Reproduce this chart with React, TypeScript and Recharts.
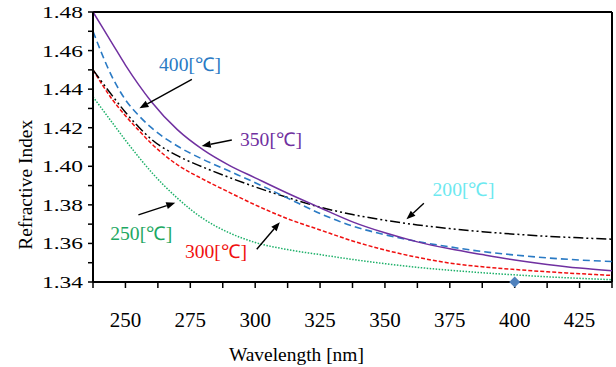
import { ComposedChart, Line, XAxis, YAxis, ReferenceLine, ReferenceDot, Scatter } from 'recharts'

// wavelength [nm]
const wavelength = [237.5, 245, 250, 255, 260, 270, 280, 290, 300, 312.5, 325, 337.5, 350, 362.5, 375, 387.5, 400, 412.5, 425, 437.5]

// refractive index per annealing temperature
const n350 = [1.48, 1.4635, 1.4525, 1.4425, 1.4335, 1.419, 1.4085, 1.4005, 1.394, 1.386, 1.3785, 1.3712, 1.3655, 1.3608, 1.3572, 1.3542, 1.3514, 1.3491, 1.3472, 1.3458]
const n400 = [1.47, 1.446, 1.4345, 1.4265, 1.42, 1.4105, 1.4035, 1.3975, 1.3915, 1.3835, 1.3755, 1.369, 1.3645, 1.361, 1.3582, 1.3558, 1.354, 1.3525, 1.3514, 1.3506]
const n200 = [1.45, 1.4365, 1.428, 1.4205, 1.414, 1.4055, 1.3995, 1.3942, 1.3893, 1.3838, 1.3788, 1.375, 1.372, 1.3696, 1.3677, 1.3661, 1.3648, 1.3637, 1.3629, 1.3622]
const n300 = [1.45, 1.4345, 1.4262, 1.4188, 1.4118, 1.4008, 1.3932, 1.3865, 1.38, 1.3728, 1.367, 1.3613, 1.3566, 1.3528, 1.3498, 1.3479, 1.3465, 1.3453, 1.3443, 1.3434]
const n250 = [1.436, 1.4225, 1.4135, 1.405, 1.397, 1.3835, 1.3728, 1.3655, 1.3605, 1.3568, 1.3542, 1.3517, 1.3495, 1.3476, 1.3461, 1.3448, 1.3437, 1.3427, 1.3419, 1.3412]

const marker = [{ w: 400, d: 1.34 }]

const xTicks = [237.5, 250, 262.5, 275, 287.5, 300, 312.5, 325, 337.5, 350, 362.5, 375, 387.5, 400, 412.5, 425, 437.5]
const yTicks = [1.34, 1.35, 1.36, 1.37, 1.38, 1.39, 1.4, 1.41, 1.42, 1.43, 1.44, 1.45, 1.46, 1.47, 1.48]

// annotations: text, text centre, arrow start, arrow end (data coords)
const noteText = ['400[℃]', '350[℃]', '200[℃]', '250[℃]', '300[℃]']
const notePos = [[274.9, 1.4528], [306.1, 1.4139], [380.3, 1.388], [256.1, 1.3651], [284.9, 1.3558]]
const arrowFrom = [[275.6, 1.4451], [291, 1.4136], [365, 1.3808], [255, 1.3748], [300.6, 1.357]]
const arrowTo = [[255.4, 1.4301], [279.4, 1.4105], [358.3, 1.3725], [269.2, 1.3811], [309.5, 1.371]]
const noteColors = ['#2A7AC4', '#7030A0', '#6DE9F0', '#1DA862', '#F01010']

const rows = wavelength.map((w, i) => ({
  w,
  n350: n350[i],
  n400: n400[i],
  n200: n200[i],
  n300: n300[i],
  n250: n250[i],
}))

const serif = { fontFamily: "'Liberation Serif', serif" }

const renderYTick = (props: any) => {
  const { x, y, payload } = props
  const v = payload.value
  if (Math.round(v * 100) % 2 !== 0) return <g />
  return (
    <text x={x} y={y} dy="0.35em" textAnchor="end" style={serif} fontSize={17} fill="#000"
      textLength={41} lengthAdjust="spacingAndGlyphs">
      {v.toFixed(2)}
    </text>
  )
}

const renderXTick = (props: any) => {
  const { x, y, payload } = props
  if (payload.value % 25 !== 0) return <g />
  return (
    <text x={x} y={y} textAnchor="middle" style={serif} fontSize={21} fill="#000">
      {payload.value}
    </text>
  )
}

const renderArrow = (props: any) => {
  const { x1, y1, x2, y2 } = props
  const a = Math.atan2(y2 - y1, x2 - x1)
  const len = 9
  const half = 3.5
  const bx = x2 - len * Math.cos(a)
  const by = y2 - len * Math.sin(a)
  const p1 = `${bx + half * Math.sin(a)},${by - half * Math.cos(a)}`
  const p2 = `${bx - half * Math.sin(a)},${by + half * Math.cos(a)}`
  return (
    <g>
      <line x1={x1} y1={y1} x2={bx} y2={by} stroke="#000" strokeWidth={1.4} />
      <polygon points={`${x2},${y2} ${p1} ${p2}`} fill="#000" />
    </g>
  )
}

const renderDiamond = (props: any) => {
  const { cx, cy } = props
  const r = 5.5
  return <polygon points={`${cx},${cy - r} ${cx + r},${cy} ${cx},${cy + r} ${cx - r},${cy}`} fill="#4F81BD" />
}

export default function App() {
  return (
    <div style={{ position: 'absolute', left: 0, top: 0, background: '#fff' }}>
      <ComposedChart width={616} height={367} data={rows} margin={{ top: 12, right: 4, bottom: 0, left: 0 }}>
        <XAxis
          dataKey="w"
          type="number"
          domain={[237.5, 437.5]}
          ticks={xTicks}
          interval={0}
          tick={renderXTick}
          tickSize={6}
          tickMargin={39}
          height={85}
          axisLine={{ stroke: '#000', strokeWidth: 2 }}
          tickLine={{ stroke: '#000', strokeWidth: 1.5 }}
          label={{
            content: (p: any) => {
              const vb = p.viewBox
              return (
                <text x={vb.x + vb.width * 0.392} y={vb.y + vb.height - 6} textAnchor="middle"
                  style={serif} fontSize={19} fill="#000" textLength={135} lengthAdjust="spacingAndGlyphs">
                  Wavelength [nm]
                </text>
              )
            },
          }}
        />
        <YAxis
          type="number"
          domain={[1.34, 1.48]}
          ticks={yTicks}
          interval={0}
          tick={renderYTick}
          tickSize={5}
          tickMargin={5}
          width={93}
          axisLine={{ stroke: '#000', strokeWidth: 2 }}
          tickLine={{ stroke: '#000', strokeWidth: 1.5 }}
          label={{
            content: (p: any) => {
              const vb = p.viewBox
              const cx = 26
              const cy = vb.y + vb.height * 0.64
              return (
                <text x={cx} y={cy} textAnchor="middle" dominantBaseline="central"
                  transform={`rotate(-90 ${cx} ${cy})`} style={serif} fontSize={19} fill="#000"
                  textLength={130} lengthAdjust="spacingAndGlyphs">
                  Refractive Index
                </text>
              )
            },
          }}
        />
        <ReferenceLine y={1.48} stroke="#000" strokeWidth={2} />
        <ReferenceLine x={437.5} stroke="#000" strokeWidth={2} />

        <Line type="monotone" dataKey="n250" stroke="#1DB069" strokeWidth={1.5} strokeDasharray="1.5 1.5" dot={false} isAnimationActive={false} />
        <Line type="monotone" dataKey="n300" stroke="#F01010" strokeWidth={1.5} strokeDasharray="4 2" dot={false} isAnimationActive={false} />
        <Line type="monotone" dataKey="n200" stroke="#000" strokeWidth={1.5} strokeDasharray="10 3 2 3 2 3" dot={false} isAnimationActive={false} />
        <Line type="monotone" dataKey="n400" stroke="#2A7AC4" strokeWidth={1.6} strokeDasharray="7 4" dot={false} isAnimationActive={false} />
        <Line type="monotone" dataKey="n350" stroke="#7030A0" strokeWidth={1.5} dot={false} isAnimationActive={false} />
        <Scatter data={marker} dataKey="d" shape={renderDiamond} isAnimationActive={false} />

        {noteText.map((t, i) => (
          <ReferenceLine
            key={`a${i}`}
            segment={[{ x: arrowFrom[i][0], y: arrowFrom[i][1] }, { x: arrowTo[i][0], y: arrowTo[i][1] }]}
            shape={renderArrow}
          />
        ))}
        {noteText.map((t, i) => (
          <ReferenceDot
            key={`t${i}`}
            x={notePos[i][0]}
            y={notePos[i][1]}
            r={0}
            shape={(p: any) => (
              <text x={p.cx} y={p.cy} textAnchor="middle" dominantBaseline="central" style={serif}
                fontSize={19} fill={noteColors[i]} textLength={62} lengthAdjust="spacingAndGlyphs">
                {t}
              </text>
            )}
          />
        ))}
      </ComposedChart>
    </div>
  )
}
